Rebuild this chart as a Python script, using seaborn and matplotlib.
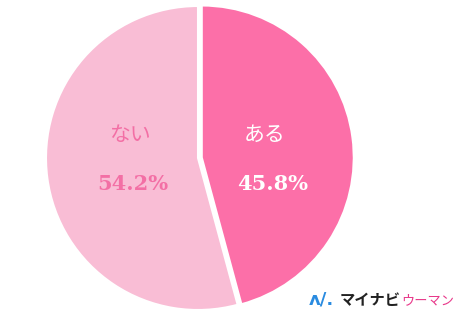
import matplotlib
matplotlib.use("Agg")
import matplotlib.pyplot as plt
import seaborn as sns

categories = ["ある", "ない"]
values = [45.8, 54.2]
colors = ["#FC6FA8", "#F9BDD5"]
label_colors = ["#FFFFFF", "#F36FA5"]

sns.set_theme(style="white")
plt.rcParams['font.family'] = ['Noto Sans CJK JP', 'DejaVu Sans']

fig = plt.figure(figsize=(4.57, 3.22), dpi=100)
fig.patch.set_facecolor("white")
W, H = 457, 322
cx, cy, r = 198, 164, 152
ax = fig.add_axes([(cx - r) / W, (cy - r) / H, 2 * r / W, 2 * r / H])

wedges, _ = ax.pie(values, colors=colors, startangle=90, counterclock=False,
                   explode=[0.025, 0.0],
                   wedgeprops=dict(edgecolor="white", linewidth=1.5))
ax.set_xlim(-1.0, 1.0)
ax.set_ylim(-1.0, 1.0)
ax.set_aspect("equal")
ax.axis("off")

name_pos = [(0.44, 0.15), (-0.45, 0.15)]
pct_pos = [(0.49, -0.17), (-0.43, -0.17)]
for cat, val, col, npos, ppos in zip(categories, values, label_colors, name_pos, pct_pos):
    ax.text(npos[0], npos[1], cat, ha="center", va="center", fontsize=15,
            color=col, family=['Noto Sans CJK JP', 'DejaVu Sans'])
    ax.text(ppos[0], ppos[1], f"{val:.1f}%", ha="center", va="center", fontsize=15,
            color=col, fontweight="heavy", family=['DejaVu Serif'])

# Logo
fig.text(309 / W, 1 - 300 / H, "ᴧ/.", color="#2A8BE0", fontsize=13, fontweight="bold",
         ha="left", va="center", family=['DejaVu Sans'])
fig.text(340 / W, 1 - 300 / H, "マイナビ", color="#222222", fontsize=11, fontweight="bold",
         ha="left", va="center", family=['Noto Sans CJK JP'])
fig.text(401 / W, 1 - 301 / H, "ウーマン", color="#E8388A", fontsize=9.5,
         ha="left", va="center", family=['Noto Sans CJK JP'])

fig.savefig("out.png", dpi=100, facecolor="white")
